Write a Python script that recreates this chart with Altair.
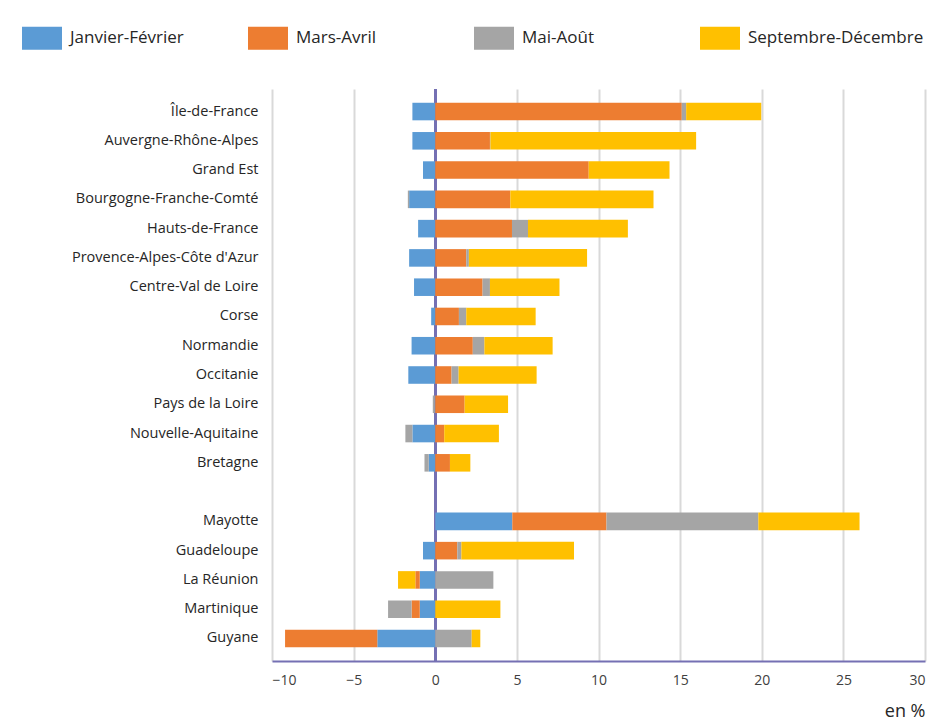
import altair as alt
import pandas as pd

regions = [
    "Île-de-France", "Auvergne-Rhône-Alpes", "Grand Est", "Bourgogne-Franche-Comté",
    "Hauts-de-France", "Provence-Alpes-Côte d'Azur", "Centre-Val de Loire", "Corse",
    "Normandie", "Occitanie", "Pays de la Loire", "Nouvelle-Aquitaine", "Bretagne",
    "Mayotte", "Guadeloupe", "La Réunion", "Martinique", "Guyane",
]
jan_fev = [-1.4, -1.4, -0.75, -1.6, -1.05, -1.6, -1.3, -0.25, -1.45, -1.65, -0.03, -1.4, -0.4,
           4.72, -0.75, -0.95, -0.95, -3.55]
mars_avril = [15.1, 3.35, 9.4, 4.6, 4.7, 1.9, 2.9, 1.45, 2.3, 1.0, 1.8, 0.55, 0.9,
              5.77, 1.35, -0.27, -0.5, -5.65]
mai_aout = [0.27, 0.03, 0.0, -0.08, 0.98, 0.16, 0.45, 0.45, 0.71, 0.43, -0.12, -0.43, -0.26,
            9.3, 0.25, 3.56, -1.44, 2.23]
sept_dec = [4.6, 12.6, 4.95, 8.77, 6.12, 7.24, 4.26, 4.25, 4.18, 4.78, 2.66, 3.35, 1.25,
            6.2, 6.9, -1.06, 3.99, 0.53]

periods = ["Janvier-Février", "Mars-Avril", "Mai-Août", "Septembre-Décembre"]
colors = ["#5B9BD5", "#ED7D31", "#A5A5A5", "#FFC000"]
x_ticks = [-10, -5, 0, 5, 10, 15, 20, 25, 30]

y_domain = regions[:13] + [" "] + regions[13:]

rows = []
for i, r in enumerate(regions):
    for k, (p, vals) in enumerate(zip(periods, [jan_fev, mars_avril, mai_aout, sept_dec])):
        rows.append({"region": r, "periode": p, "ordre": k, "valeur": vals[i]})
df = pd.DataFrame(rows)

FONT = "Open Sans"
TEXT = "#262626"
PURPLE = "#7570B3"

bars = alt.Chart(df).mark_bar().encode(
    y=alt.Y(
        "region:N",
        scale=alt.Scale(domain=y_domain, paddingInner=0.4, paddingOuter=0.47),
        axis=alt.Axis(title=None, ticks=False, domain=False, grid=False, labelPadding=14,
                      labelFontSize=14.5, labelFont=FONT, labelColor=TEXT, labelLimit=300),
    ),
    x=alt.X(
        "valeur:Q",
        stack="zero",
        scale=alt.Scale(domain=[-10, 30], nice=False, zero=False),
        axis=alt.Axis(values=x_ticks, title="en %", titleX=653, titleY=55, titleAlign="right",
                      titleBaseline="alphabetic", titleFont=FONT, titleFontSize=18,
                      titleFontWeight="normal", titleColor=TEXT,
                      ticks=False, labelPadding=12, labelFont=FONT, labelFontSize=14,
                      labelColor="#404040", domainColor=PURPLE, domainWidth=2,
                      grid=True, gridColor="#d9d9d9", gridWidth=2),
    ),
    color=alt.Color(
        "periode:N",
        scale=alt.Scale(domain=periods, range=colors),
        legend=alt.Legend(title=None, orient="none", legendX=-250, legendY=-71,
                          direction="horizontal", columns=4, gridAlign="all",
                          columnPadding=2, padding=0,
                          symbolType="M-1,-0.575L1,-0.575L1,0.575L-1,0.575Z",
                          symbolSize=1600, symbolStrokeWidth=0, symbolOpacity=1,
                          labelFont=FONT, labelFontSize=17, labelColor=TEXT,
                          labelOffset=8, labelLimit=400),
    ),
    order=alt.Order("ordre:Q"),
)

zero_line = alt.Chart(df).mark_rule(color=PURPLE, strokeWidth=2).encode(x=alt.datum(0))

chart = alt.layer(zero_line, bars).properties(
    width=653,
    height=572,
    autosize=alt.AutoSizeParams(type="none"),
    padding={"left": 264, "top": 81, "right": 8, "bottom": 59},
    background="white",
).configure_view(stroke=None)

chart.save("out.html", embed_options={"renderer": "svg", "actions": False})
